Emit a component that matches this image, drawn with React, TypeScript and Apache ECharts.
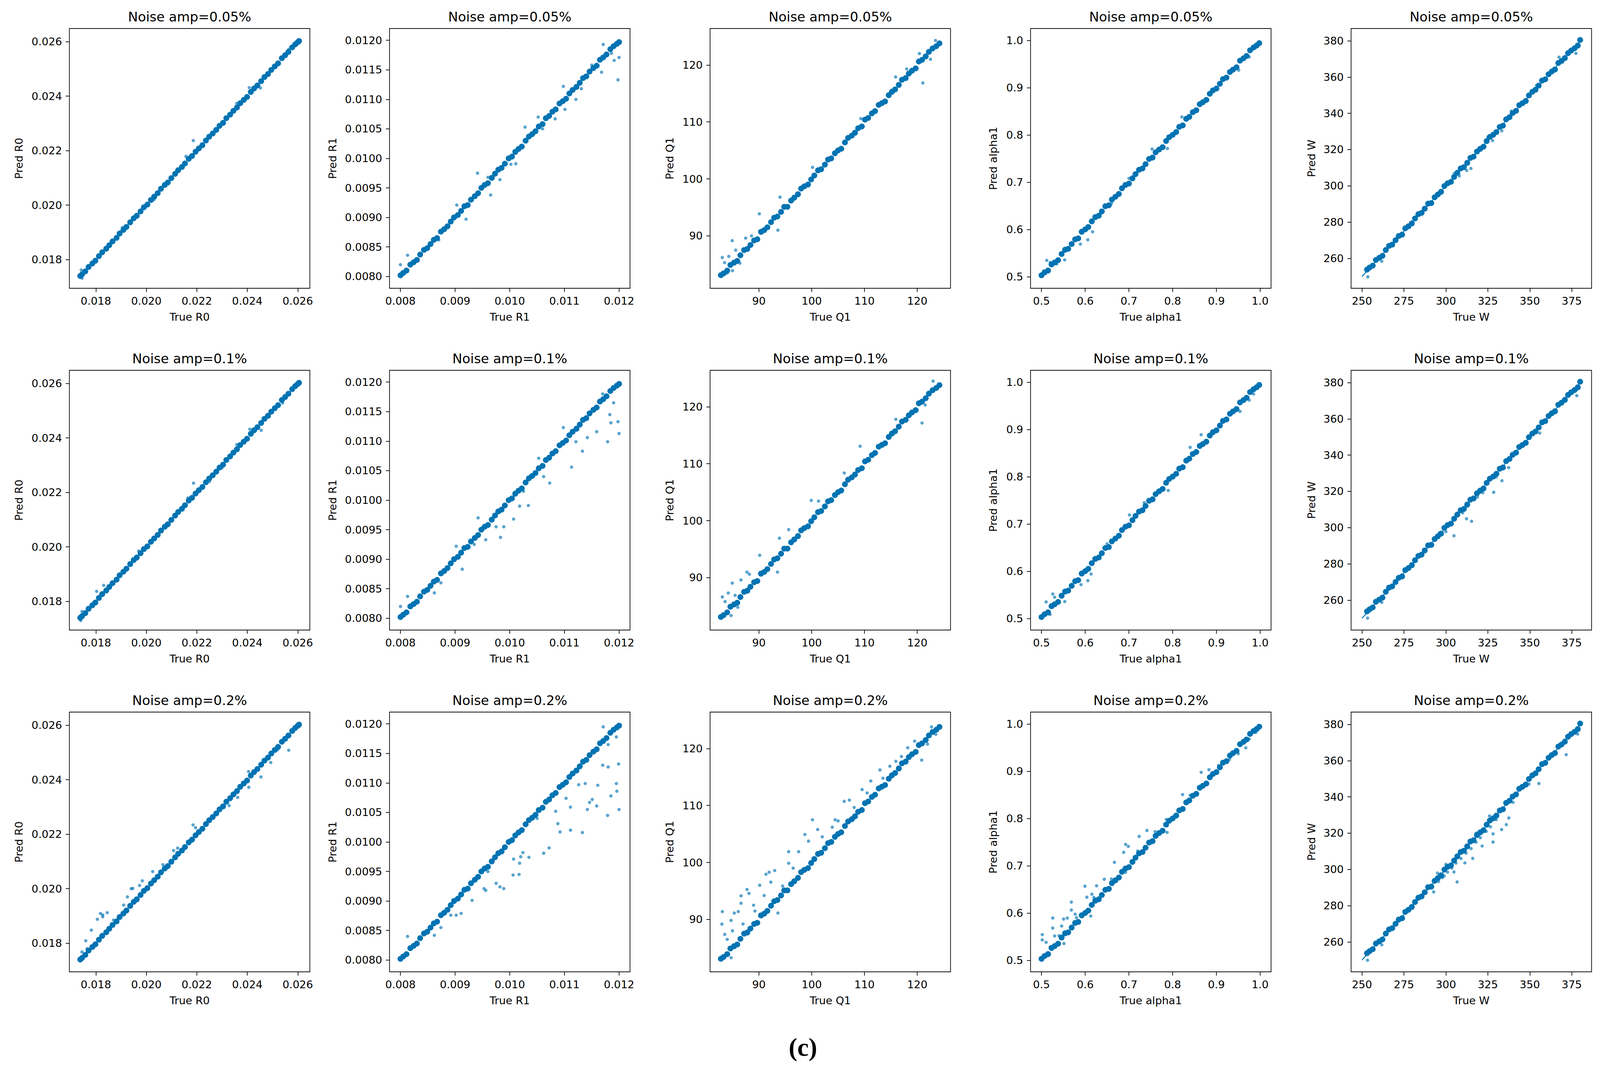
import React, { useEffect, useRef } from "react";
import * as echarts from "echarts";

// ---------- labels ----------
const NOISE_LEVELS = ["0.05%", "0.1%", "0.2%"];
const PARAMS = ["R0", "R1", "Q1", "alpha1", "W"];
const PANEL_LABEL = "(c)";

// ---------- tick values ----------
const R0_TICKS = [0.018, 0.02, 0.022, 0.024, 0.026];
const R1_X_TICKS = [0.008, 0.009, 0.01, 0.011, 0.012];
const R1_Y_TICKS = [0.008, 0.0085, 0.009, 0.0095, 0.01, 0.0105, 0.011, 0.0115, 0.012];
const Q1_TICKS = [90, 100, 110, 120];
const A1_TICKS = [0.5, 0.6, 0.7, 0.8, 0.9, 1.0];
const W_X_TICKS = [250, 275, 300, 325, 350, 375];
const W_Y_TICKS = [260, 280, 300, 320, 340, 360, 380];

// ---------- dense core of each column (true / predicted) ----------
const R0_TRUE = [
  0.01738, 0.01745, 0.01758, 0.01771, 0.01786, 0.01798, 0.01812, 0.01825, 0.01841, 0.01853,
  0.01866, 0.01882, 0.01894, 0.01909, 0.01921, 0.01936, 0.0195, 0.01962, 0.01977, 0.0199,
  0.02004, 0.02018, 0.02031, 0.02045, 0.02058, 0.02073, 0.02085, 0.02099, 0.02114, 0.02126,
  0.02141, 0.02153, 0.02168, 0.02181, 0.02195, 0.02208, 0.02222, 0.02236, 0.02249, 0.02263,
  0.02277, 0.0229, 0.02304, 0.02317, 0.02332, 0.02345, 0.02359, 0.02372, 0.02386, 0.02399,
  0.02414, 0.02427, 0.0244, 0.02455, 0.02468, 0.02482, 0.02495, 0.02509, 0.02522, 0.02537,
  0.0255, 0.02563, 0.02578, 0.0259, 0.026, 0.02605,
];
const R0_PRED = [
  0.0174, 0.01746, 0.01757, 0.01773, 0.01786, 0.01796, 0.01813, 0.01827, 0.0184, 0.01853,
  0.01867, 0.0188, 0.01896, 0.01909, 0.0192, 0.01937, 0.01952, 0.01961, 0.01977, 0.01992,
  0.02002, 0.02019, 0.02031, 0.02044, 0.0206, 0.02074, 0.02083, 0.02099, 0.02115, 0.02128,
  0.0214, 0.02153, 0.0217, 0.0218, 0.02196, 0.02208, 0.0222, 0.02237, 0.02251, 0.02263,
  0.02276, 0.02291, 0.02302, 0.02319, 0.02332, 0.02346, 0.02358, 0.02374, 0.02386, 0.02397,
  0.02415, 0.02428, 0.02439, 0.02455, 0.0247, 0.02481, 0.02496, 0.02509, 0.0252, 0.02539,
  0.0255, 0.02562, 0.02579, 0.0259, 0.02598, 0.02602,
];

const R1_TRUE = [
  0.008, 0.00805, 0.00811, 0.00818, 0.00824, 0.0083, 0.00836, 0.00843, 0.00849, 0.00855,
  0.00861, 0.00867, 0.00874, 0.0088, 0.00886, 0.00892, 0.00898, 0.00905, 0.00911, 0.00917,
  0.00923, 0.00929, 0.00936, 0.00942, 0.00948, 0.00954, 0.0096, 0.00967, 0.00973, 0.00979,
  0.00985, 0.00991, 0.00998, 0.01004, 0.0101, 0.01016, 0.01022, 0.01029, 0.01035, 0.01041,
  0.01047, 0.01053, 0.0106, 0.01066, 0.01072, 0.01078, 0.01084, 0.01091, 0.01097, 0.01103,
  0.01109, 0.01115, 0.01122, 0.01128, 0.01134, 0.0114, 0.01146, 0.01153, 0.01159, 0.01165,
  0.01171, 0.01177, 0.01184, 0.0119, 0.01196, 0.012,
];
const R1_PRED = [
  0.00802, 0.00806, 0.0081, 0.0082, 0.00824, 0.00828, 0.00837, 0.00845, 0.00848, 0.00855,
  0.00862, 0.00865, 0.00876, 0.0088, 0.00885, 0.00893, 0.009, 0.00904, 0.00911, 0.00919,
  0.00921, 0.0093, 0.00936, 0.00941, 0.0095, 0.00955, 0.00958, 0.00967, 0.00974, 0.00981,
  0.00984, 0.00991, 0.01, 0.01003, 0.01011, 0.01016, 0.0102, 0.0103, 0.01037, 0.01041,
  0.01046, 0.01054, 0.01058, 0.01068, 0.01072, 0.01079, 0.01083, 0.01093, 0.01097, 0.01101,
  0.0111, 0.01116, 0.01121, 0.01128, 0.01136, 0.01139, 0.01147, 0.01153, 0.01157, 0.01167,
  0.01171, 0.01176, 0.01185, 0.0119, 0.01194, 0.01197,
];

const Q1_TRUE = [
  82.8, 83.3, 84.0, 84.6, 85.3, 85.9, 86.5, 87.2, 87.8, 88.4,
  89.1, 89.7, 90.4, 91.0, 91.6, 92.3, 92.9, 93.5, 94.2, 94.8,
  95.4, 96.1, 96.7, 97.4, 98.0, 98.6, 99.3, 99.9, 100.5, 101.2,
  101.8, 102.5, 103.1, 103.7, 104.4, 105.0, 105.6, 106.3, 106.9, 107.6,
  108.2, 108.8, 109.5, 110.1, 110.7, 111.4, 112.0, 112.7, 113.3, 113.9,
  114.6, 115.2, 115.8, 116.5, 117.1, 117.8, 118.4, 119.0, 119.7, 120.3,
  120.9, 121.6, 122.2, 122.9, 123.6, 124.2,
];
const Q1_PRED = [
  83.1, 83.4, 83.9, 84.9, 85.3, 85.6, 86.6, 87.5, 87.7, 88.4,
  89.2, 89.4, 90.7, 91.0, 91.5, 92.4, 93.2, 93.4, 94.2, 95.1,
  95.1, 96.2, 96.7, 97.3, 98.3, 98.7, 99.0, 99.9, 100.6, 101.5,
  101.7, 102.5, 103.4, 103.6, 104.5, 105.0, 105.3, 106.4, 107.2, 107.6,
  108.1, 108.9, 109.2, 110.4, 110.7, 111.5, 111.9, 113.0, 113.3, 113.6,
  114.7, 115.3, 115.7, 116.5, 117.4, 117.7, 118.5, 119.0, 119.4, 120.6,
  120.9, 121.5, 122.3, 122.9, 123.3, 123.8,
];

const A1_TRUE = [
  0.5, 0.507, 0.515, 0.523, 0.53, 0.538, 0.546, 0.554, 0.561, 0.569,
  0.577, 0.584, 0.592, 0.6, 0.607, 0.615, 0.623, 0.631, 0.638, 0.646,
  0.654, 0.661, 0.669, 0.677, 0.684, 0.692, 0.7, 0.708, 0.715, 0.723,
  0.731, 0.738, 0.746, 0.754, 0.761, 0.769, 0.777, 0.785, 0.792, 0.8,
  0.808, 0.815, 0.823, 0.831, 0.838, 0.846, 0.854, 0.862, 0.869, 0.877,
  0.885, 0.892, 0.9, 0.908, 0.915, 0.923, 0.931, 0.938, 0.946, 0.954,
  0.962, 0.969, 0.977, 0.985, 0.992, 0.998,
];
const A1_PRED = [
  0.503, 0.509, 0.513, 0.526, 0.53, 0.535, 0.548, 0.557, 0.559, 0.569,
  0.579, 0.581, 0.595, 0.6, 0.605, 0.617, 0.626, 0.629, 0.638, 0.649,
  0.651, 0.663, 0.669, 0.675, 0.687, 0.694, 0.697, 0.708, 0.717, 0.726,
  0.729, 0.738, 0.749, 0.752, 0.763, 0.769, 0.774, 0.787, 0.795, 0.8,
  0.806, 0.817, 0.82, 0.834, 0.838, 0.848, 0.852, 0.865, 0.869, 0.874,
  0.887, 0.894, 0.898, 0.908, 0.918, 0.921, 0.933, 0.938, 0.943, 0.957,
  0.962, 0.967, 0.979, 0.985, 0.989, 0.994,
];

const W_TRUE = [
  253.0, 254.5, 256.4, 258.3, 260.3, 262.2, 264.2, 266.1, 268.0, 270.0,
  271.9, 273.9, 275.8, 277.7, 279.7, 281.6, 283.6, 285.5, 287.4, 289.4,
  291.3, 293.3, 295.2, 297.1, 299.1, 301.0, 303.0, 304.9, 306.8, 308.8,
  310.7, 312.7, 314.6, 316.5, 318.5, 320.4, 322.4, 324.3, 326.2, 328.2,
  330.1, 332.1, 334.0, 335.9, 337.9, 339.8, 341.8, 343.7, 345.6, 347.6,
  349.5, 351.5, 353.4, 355.3, 357.3, 359.2, 361.2, 363.1, 365.0, 367.0,
  368.9, 370.9, 372.8, 374.7, 376.7, 378.6, 380.0,
];
const W_PRED = [
  253.8, 254.9, 256.0, 259.1, 260.3, 261.4, 264.6, 266.9, 267.6, 270.0,
  272.3, 273.1, 276.6, 277.7, 279.3, 282.0, 284.4, 285.1, 287.4, 290.2,
  290.5, 293.7, 295.2, 296.7, 299.9, 301.4, 302.2, 304.9, 307.2, 309.6,
  310.3, 312.7, 315.4, 316.1, 318.9, 320.4, 321.6, 324.7, 327.0, 328.2,
  329.7, 332.5, 333.2, 336.7, 337.9, 340.2, 341.4, 344.5, 345.6, 346.8,
  349.9, 351.9, 353.0, 355.3, 358.1, 358.8, 361.6, 363.1, 364.2, 367.8,
  368.9, 370.5, 373.2, 374.7, 375.9, 377.4, 380.5,
];
// y = x reference segment visible in the W panels
const W_REF = [[250.0, 250.0], [380.5, 380.5]];

// ---------- scattered points read per panel ----------
const R0_OUT_005 = [
  [0.02186, 0.02237], [0.02408, 0.02431], [0.02452, 0.0243], [0.02358, 0.02373], [0.02157, 0.02179],
  [0.01742, 0.01762], [0.01745, 0.01732], [0.02565, 0.02572], [0.0203, 0.0202], [0.01905, 0.01918],
];
const R0_OUT_01 = [
  [0.02187, 0.02234], [0.0241, 0.02432], [0.02455, 0.02428], [0.02358, 0.02375], [0.01803, 0.01837],
  [0.01831, 0.01859], [0.02165, 0.0218], [0.01745, 0.01763], [0.0174, 0.0173], [0.0254, 0.02528],
  [0.0225, 0.0224], [0.0197, 0.01985], [0.023, 0.0229],
];
const R0_OUT_02 = [
  [0.01782, 0.01848], [0.0176, 0.01809], [0.01818, 0.01909], [0.01827, 0.01904], [0.01845, 0.01912],
  [0.01806, 0.01888], [0.01827, 0.01897], [0.0191, 0.0194], [0.01925, 0.0197], [0.0194, 0.02],
  [0.01946, 0.02001], [0.01973, 0.02012], [0.01984, 0.02029], [0.02025, 0.02063], [0.02066, 0.02088],
  [0.02108, 0.0214], [0.02124, 0.02149], [0.02185, 0.02234], [0.02195, 0.02224], [0.02564, 0.02508],
  [0.02493, 0.02463], [0.02454, 0.0241], [0.02406, 0.02372], [0.02362, 0.02335], [0.02328, 0.02305],
  [0.01745, 0.01768], [0.01765, 0.0178], [0.0187, 0.01885], [0.02405, 0.0243], [0.0252, 0.0251],
];

const R1_OUT_005 = [
  [0.01198, 0.01133], [0.012, 0.01171], [0.01191, 0.01166], [0.01171, 0.01193], [0.01168, 0.01146],
  [0.01131, 0.01118], [0.01121, 0.011], [0.01098, 0.01122], [0.01101, 0.01083], [0.01083, 0.01067],
  [0.01052, 0.0107], [0.01028, 0.01053], [0.01011, 0.00991], [0.01002, 0.0099], [0.00982, 0.00964],
  [0.00965, 0.00938], [0.00941, 0.00975], [0.0092, 0.00897], [0.00903, 0.00921], [0.00813, 0.00836],
  [0.008, 0.0082], [0.01186, 0.01178], [0.0115, 0.01158], [0.0106, 0.0105], [0.0096, 0.00968],
  [0.0087, 0.00862],
];
const R1_OUT_01 = [
  [0.012, 0.01113], [0.01198, 0.01133], [0.01185, 0.01131], [0.01179, 0.01099], [0.01183, 0.01145],
  [0.01159, 0.01116], [0.01142, 0.01106], [0.01133, 0.01083], [0.01121, 0.01099], [0.01113, 0.01056],
  [0.01098, 0.01123], [0.01073, 0.01029], [0.01062, 0.0104], [0.01053, 0.01071], [0.01034, 0.00991],
  [0.01018, 0.0099], [0.01007, 0.00968], [0.00989, 0.00955], [0.00983, 0.00937], [0.00975, 0.00955],
  [0.00956, 0.00933], [0.00942, 0.0097], [0.00913, 0.00883], [0.00902, 0.00922], [0.00862, 0.00843],
  [0.00874, 0.0086], [0.00813, 0.00837], [0.008, 0.0082], [0.0117, 0.0118], [0.0119, 0.01165],
  [0.00935, 0.00925], [0.01025, 0.01015],
];
const R1_OUT_02 = [
  [0.01199, 0.01132], [0.0118, 0.01127], [0.0117, 0.0113], [0.01195, 0.01099], [0.01196, 0.01086],
  [0.01185, 0.01078], [0.012, 0.01055], [0.01179, 0.01045], [0.01161, 0.01096], [0.01151, 0.01072],
  [0.01159, 0.01061], [0.01146, 0.01067], [0.01142, 0.01055], [0.01138, 0.01099], [0.01126, 0.01097],
  [0.01111, 0.01059], [0.01088, 0.01031], [0.01092, 0.01017], [0.01111, 0.0102], [0.01133, 0.01016],
  [0.01072, 0.0099], [0.01062, 0.00981], [0.01035, 0.00974], [0.01024, 0.00982], [0.0102, 0.00975],
  [0.01007, 0.00971], [0.01018, 0.00964], [0.01006, 0.00944], [0.01017, 0.00945], [0.00989, 0.00921],
  [0.00982, 0.00924], [0.00975, 0.0093], [0.00956, 0.00918], [0.00953, 0.00921], [0.00931, 0.00901],
  [0.00911, 0.00879], [0.00902, 0.00876], [0.00892, 0.00876], [0.00874, 0.00855], [0.00862, 0.00842],
  [0.01103, 0.01074], [0.01084, 0.01052], [0.00813, 0.0084], [0.01171, 0.01195], [0.0118, 0.01165],
  [0.01195, 0.01178], [0.0105, 0.0104], [0.0096, 0.0095],
];

const Q1_OUT_005 = [
  [121.05, 116.85], [115.9, 117.9], [123.46, 124.3], [94.0, 96.8], [90.08, 93.87],
  [93.6, 91.0], [84.95, 89.16], [83.07, 86.2], [83.97, 83.46], [100.17, 102.04],
  [109.3, 110.58], [83.5, 85.3], [84.3, 86.4], [85.6, 87.5], [86.4, 85.2],
  [87.5, 89.6], [88.6, 90.0], [85.0, 83.9], [122.5, 121.0], [120.4, 122.0], [118.0, 119.3],
];
const Q1_OUT_01 = [
  [120.9, 117.15], [99.92, 103.56], [101.3, 103.44], [95.64, 98.44], [93.9, 96.93],
  [90.15, 93.93], [93.53, 90.97], [84.96, 89.04], [87.74, 90.97], [83.08, 86.61],
  [84.74, 83.34], [109.17, 113.07], [106.17, 108.37], [115.94, 117.8], [83.6, 85.8],
  [84.2, 87.3], [85.5, 86.9], [86.6, 89.6], [88.2, 90.6], [86.0, 84.8], [123.0, 124.5], [121.5, 120.3],
];
const Q1_OUT_02 = [
  [83.08, 91.38], [83.0, 89.18], [83.53, 87.37], [84.74, 89.83], [85.34, 91.12],
  [86.1, 91.38], [86.62, 92.84], [86.62, 94.14], [87.74, 95.26], [88.12, 94.57],
  [89.25, 91.47], [90.15, 96.0], [91.35, 97.93], [91.95, 98.28], [93.0, 98.58],
  [92.26, 96.55], [93.6, 91.12], [94.5, 95.86], [95.64, 101.9], [95.64, 99.87],
  [97.52, 101.9], [98.72, 104.91], [99.4, 103.75], [100.15, 107.5], [101.13, 105.78],
  [103.9, 106.2], [104.44, 107.5], [106.17, 110.73], [107.14, 110.95], [108.05, 109.66],
  [109.55, 112.8], [111.2, 114.31], [112.93, 116.25], [114.81, 116.9], [115.94, 117.76],
  [118.2, 120.13], [120.83, 117.97], [121.95, 120.78], [122.7, 123.8], [84.74, 83.28],
  [84.0, 86.5], [85.0, 88.0], [87.0, 89.2], [89.0, 92.5], [91.0, 94.2],
  [96.5, 99.0], [102.0, 104.5], [105.0, 107.3], [110.5, 112.2], [113.5, 114.8],
  [117.0, 118.6], [119.5, 121.3], [123.5, 122.5],
];

const A1_OUT_005 = [
  [0.512, 0.5345], [0.553, 0.5355], [0.589, 0.569], [0.606, 0.578], [0.617, 0.595],
  [0.753, 0.77], [0.788, 0.771], [0.821, 0.838], [0.951, 0.937], [0.505, 0.512],
  [0.52, 0.53], [0.535, 0.527], [0.975, 0.965], [0.99, 0.985], [0.66, 0.655], [0.7, 0.708],
];
const A1_OUT_01 = [
  [0.5106, 0.535], [0.5257, 0.5518], [0.5532, 0.5358], [0.5195, 0.5084], [0.5904, 0.5716],
  [0.606, 0.58], [0.6135, 0.594], [0.7012, 0.719], [0.7899, 0.7708], [0.8652, 0.8888],
  [0.84, 0.862], [0.954, 0.938], [0.53, 0.545], [0.545, 0.551], [0.975, 0.962],
  [0.985, 0.975], [0.65, 0.658], [0.735, 0.745],
];
const A1_OUT_02 = [
  [0.5018, 0.5543], [0.5018, 0.543], [0.5106, 0.538], [0.5257, 0.5893], [0.5257, 0.5682],
  [0.53, 0.5514], [0.546, 0.5725], [0.5505, 0.5872], [0.559, 0.5893], [0.5683, 0.623],
  [0.5683, 0.6062], [0.5771, 0.5977], [0.5993, 0.6567], [0.6037, 0.6335], [0.6152, 0.6398],
  [0.6259, 0.6575], [0.6436, 0.6714], [0.6667, 0.7072], [0.6879, 0.7283], [0.6924, 0.7452],
  [0.6986, 0.741], [0.7234, 0.762], [0.7411, 0.7746], [0.7855, 0.7978], [0.8227, 0.8505],
  [0.8652, 0.8976], [0.883, 0.9031], [0.5514, 0.5354], [0.6126, 0.5935], [0.7872, 0.7704],
  [0.6924, 0.6862], [0.9672, 0.9495], [0.95, 0.937], [0.52, 0.528], [0.54, 0.552],
  [0.58, 0.59], [0.62, 0.633], [0.66, 0.672], [0.72, 0.731], [0.76, 0.772],
  [0.84, 0.849], [0.905, 0.912], [0.975, 0.968], [0.99, 0.982], [0.93, 0.925],
];

const W_OUT_005 = [
  [253.5, 249.8], [261.8, 258.4], [312.4, 308.5], [314.9, 309.6], [327.8, 325.0],
  [333.3, 330.4], [377.5, 373.1], [367.4, 371.0], [305.0, 306.8], [339.0, 341.2],
  [354.0, 355.4], [290.0, 290.8], [308.0, 305.5], [325.0, 326.8],
];
const W_OUT_01 = [
  [253.3, 250.1], [261.8, 258.8], [315.3, 303.5], [312.3, 304.9], [328.5, 319.5],
  [333.4, 325.9], [337.4, 333.1], [355.9, 352.2], [378.0, 372.8], [304.8, 295.5],
  [318.8, 316.9], [310.0, 308.2], [300.0, 297.8], [322.0, 319.3], [345.0, 344.8],
  [296.0, 297.0], [330.0, 328.0],
];
const W_OUT_02 = [
  [253.3, 249.9], [261.8, 258.4], [292.7, 287.6], [299.0, 296.4], [304.8, 298.6],
  [311.3, 303.6], [316.0, 306.1], [321.6, 312.9], [328.1, 315.1], [328.1, 319.6],
  [333.2, 322.0], [337.5, 328.4], [336.0, 324.7], [349.5, 347.1], [355.4, 347.4],
  [371.7, 363.3], [378.5, 374.7], [306.7, 293.1], [295.6, 293.3], [295.0, 298.0],
  [298.0, 295.5], [301.0, 298.5], [303.5, 300.8], [306.0, 303.5], [309.0, 306.0],
  [312.0, 309.0], [315.0, 311.5], [318.0, 315.0], [320.5, 317.5], [324.0, 321.0],
  [326.5, 323.5], [330.0, 327.5], [340.0, 337.0], [300.0, 302.8], [308.0, 309.5],
  [318.0, 320.0], [326.0, 329.5],
];

// ---------- assembling ----------
const CORES = [
  [R0_TRUE, R0_PRED],
  [R1_TRUE, R1_PRED],
  [Q1_TRUE, Q1_PRED],
  [A1_TRUE, A1_PRED],
  [W_TRUE, W_PRED],
];
const SCATTERED = [
  [R0_OUT_005, R1_OUT_005, Q1_OUT_005, A1_OUT_005, W_OUT_005],
  [R0_OUT_01, R1_OUT_01, Q1_OUT_01, A1_OUT_01, W_OUT_01],
  [R0_OUT_02, R1_OUT_02, Q1_OUT_02, A1_OUT_02, W_OUT_02],
];

// axis configuration per column (ranges, ticks, decimals)
const AXES = [
  { xMin: 0.01695, xMax: 0.02648, yMin: 0.01695, yMax: 0.02648, xTicks: R0_TICKS, yTicks: R0_TICKS, xDec: 3, yDec: 3, yGap: 123 },
  { xMin: 0.0078, xMax: 0.0122, yMin: 0.0078, yMax: 0.0122, xTicks: R1_X_TICKS, yTicks: R1_Y_TICKS, xDec: 3, yDec: 4, yGap: 141 },
  { xMin: 80.75, xMax: 126.3, yMin: 80.8, yMax: 126.4, xTicks: Q1_TICKS, yTicks: Q1_TICKS, xDec: 0, yDec: 0, yGap: 95 },
  { xMin: 0.475, xMax: 1.025, yMin: 0.4755, yMax: 1.025, xTicks: A1_TICKS, yTicks: A1_TICKS, xDec: 1, yDec: 1, yGap: 88 },
  { xMin: 243.5, xMax: 386.8, yMin: 243.5, yMax: 386.8, xTicks: W_X_TICKS, yTicks: W_Y_TICKS, xDec: 0, yDec: 0, yGap: 93 },
];

// layout (reference pixels, 4358 x 2747)
const REF_W = 4358;
const REF_H = 2747;
const COL_LEFT = [189, 1061, 1934, 2807, 3680];
const ROW_TOP = [73, 948, 1823];
const BOX_W = 655;
const BOX_H = 665;
const COLOR = "#0173b2";
const FONT = "DejaVu Sans";

function buildOption(sx: number, sy: number) {
  const sf = Math.min(sx, sy);
  const grid: any[] = [];
  const xAxis: any[] = [];
  const yAxis: any[] = [];
  const series: any[] = [];
  const graphic: any[] = [];
  const tickFont = 29 * sf;

  NOISE_LEVELS.forEach((noise, r) => {
    PARAMS.forEach((param, c) => {
      const idx = r * PARAMS.length + c;
      const ax = AXES[c];
      grid.push({
        left: COL_LEFT[c] * sx,
        top: ROW_TOP[r] * sy,
        width: BOX_W * sx,
        height: BOX_H * sy,
        show: true,
        borderColor: "#111",
        borderWidth: 2 * sf,
        backgroundColor: "#fff",
        containLabel: false,
      });
      const common = {
        type: "value",
        gridIndex: idx,
        splitLine: { show: false },
        axisLine: { show: false, onZero: false },
        nameLocation: "middle",
        nameTextStyle: { fontSize: tickFont, color: "#000", fontFamily: FONT },
      };
      const tickStyle = { color: "#111", width: 2 * sf };
      xAxis.push({
        ...common,
        min: ax.xMin,
        max: ax.xMax,
        name: "True " + param,
        nameGap: 60 * sy,
        axisTick: { show: true, length: 10 * sf, customValues: ax.xTicks, lineStyle: tickStyle },
        axisLabel: {
          show: true,
          customValues: ax.xTicks,
          margin: 20 * sf,
          fontSize: tickFont,
          color: "#000",
          fontFamily: FONT,
          formatter: (v: number) => v.toFixed(ax.xDec),
        },
      });
      yAxis.push({
        ...common,
        min: ax.yMin,
        max: ax.yMax,
        name: "Pred " + param,
        nameGap: ax.yGap * sx,
        axisTick: { show: true, length: 10 * sf, customValues: ax.yTicks, lineStyle: tickStyle },
        axisLabel: {
          show: true,
          customValues: ax.yTicks,
          margin: 20 * sf,
          fontSize: tickFont,
          color: "#000",
          fontFamily: FONT,
          formatter: (v: number) => v.toFixed(ax.yDec),
        },
      });

      if (param === "W") {
        series.push({
          type: "line",
          xAxisIndex: idx,
          yAxisIndex: idx,
          data: W_REF,
          showSymbol: false,
          symbol: "none",
          lineStyle: { color: COLOR, width: 2.5 * sf },
          z: 1,
          silent: true,
        });
      }
      const [tx, py] = CORES[c];
      series.push({
        type: "scatter",
        xAxisIndex: idx,
        yAxisIndex: idx,
        data: tx.map((x: number, k: number) => [x, py[k]]),
        symbolSize: 16 * sf,
        itemStyle: { color: COLOR, opacity: 1 },
        z: 2,
        silent: true,
      });
      series.push({
        type: "scatter",
        xAxisIndex: idx,
        yAxisIndex: idx,
        data: SCATTERED[r][c],
        symbolSize: 9 * sf,
        itemStyle: { color: COLOR, opacity: 0.65 },
        z: 3,
        silent: true,
      });

      graphic.push({
        type: "text",
        x: (COL_LEFT[c] + BOX_W / 2) * sx,
        y: (ROW_TOP[r] - 30) * sy,
        style: {
          text: "Noise amp=" + noise,
          fontSize: 36 * sf,
          fontFamily: FONT,
          fill: "#000",
          align: "center",
          verticalAlign: "middle",
          textAlign: "center",
          textVerticalAlign: "middle",
        },
      });
    });
  });

  graphic.push({
    type: "text",
    x: 2187 * sx,
    y: 2680 * sy,
    style: {
      text: PANEL_LABEL,
      fontSize: 70 * sf,
      fontWeight: "bold",
      fontFamily: "Liberation Serif",
      fill: "#000",
      align: "center",
      verticalAlign: "middle",
      textAlign: "center",
      textVerticalAlign: "middle",
    },
  });

  return {
    animation: false,
    backgroundColor: "#fff",
    textStyle: { fontFamily: FONT },
    grid,
    xAxis,
    yAxis,
    series,
    graphic,
  };
}

export default function App() {
  const ref = useRef<HTMLDivElement | null>(null);
  const vw = (typeof window !== "undefined" && window.innerWidth) || REF_W;
  const vh = (typeof window !== "undefined" && window.innerHeight) || REF_H;
  useEffect(() => {
    if (!ref.current) return;
    const w = ref.current.clientWidth || vw;
    const h = ref.current.clientHeight || vh;
    const chart = echarts.init(ref.current, null, { renderer: "svg", width: w, height: h });
    chart.setOption(buildOption(w / REF_W, h / REF_H) as any);
    return () => chart.dispose();
  }, []);
  return (
    <div
      ref={ref}
      style={{ position: "fixed", left: 0, top: 0, width: vw, height: vh, background: "#fff" }}
    />
  );
}
